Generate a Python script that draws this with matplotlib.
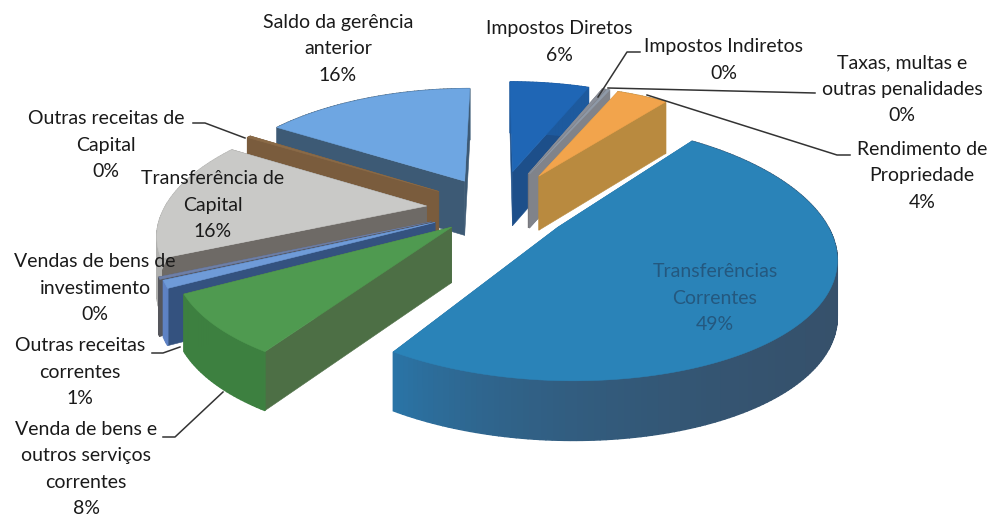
import numpy as np
from matplotlib import pyplot as plt
from matplotlib.colors import to_rgb

plt.rcParams['font.family'] = ['Lato', 'DejaVu Sans']

# valores (os 0% sao fatias pequenas mas visiveis)
categorias = ["Impostos Diretos", "Impostos Indiretos", "Taxas, multas e\noutras penalidades",
              "Rendimento de\nPropriedade", "Transferências\nCorrentes",
              "Venda de bens e\noutros serviços\ncorrentes", "Outras receitas\ncorrentes",
              "Vendas de bens de\ninvestimento", "Transferência de\nCapital",
              "Outras receitas de\nCapital", "Saldo da gerência\nanterior"]
valores = [6.1, 0.3, 0.2, 3.9, 48.6, 7.8, 1.0, 0.3, 15.6, 0.3, 15.9]
rotulos = ["6%", "0%", "0%", "4%", "49%", "8%", "1%", "0%", "16%", "0%", "16%"]

cor_topo = ['#1f66b5', '#8a8f99', '#8f9aa8', '#f2a44c', '#2a83b8', '#4f9a50',
            '#6f9bd8', '#6d7fa8', '#c9c9c7', '#8a6a47', '#6ea6e2']
cor_lado = ['#1d4f8a', '#77777d', '#80838a', '#b98a3f', '#2a6f9e', '#4d6f45',
            '#34527f', '#55565c', '#6e6a66', '#7a5c3d', '#3d5a75']
rim_a = ['#1d5a9e', '#77777d', '#80838a', '#b98a3f', '#36506a', '#3d8040',
         '#5e82c4', '#55565c', '#b0b0ae', '#7a5c3d', '#3d5a75']
rim_b = ['#1d5a9e', '#77777d', '#80838a', '#b98a3f', '#2a74a6', '#3d8040',
         '#5e82c4', '#55565c', '#b0b0ae', '#7a5c3d', '#3d5a75']
explosao = [0.33, 0.33, 0.33, 0.33, 0.275, 0.23, 0.26, 0.27, 0.27, 0.27, 0.27]
ordem = [10, 9, 8, 7, 6, 5, 0, 1, 2, 3, 4]

cx, cy, A, B, kx, ky, alt = 497, 208, 262, 118, 0.2, 0.18, 55


def proj(X, Y, z=0.0):
    wx = 1 + kx * Y
    wy = 1 + ky * Y
    return cx + A * X / wx, cy - B * Y / wy + alt * z / wy ** 0.35


def face(ax, x, y, c, z, lw=0.4):
    ax.fill(x, y, color=c, lw=lw, zorder=z)


fig, ax = plt.subplots(figsize=(9.93, 5.15), dpi=100)
fig.subplots_adjust(0, 0, 1, 1)
ax.set_xlim(0, 993)
ax.set_ylim(515, 0)
ax.axis('off')

cortes = np.cumsum([0] + valores) / sum(valores) * 2 * np.pi
for n, i in enumerate(ordem):
    a0, a1 = cortes[i], cortes[i + 1]
    m = (a0 + a1) / 2
    ox, oy = explosao[i] * np.sin(m), explosao[i] * np.cos(m)
    t = np.linspace(a0, a1, max(3, int(np.degrees(a1 - a0)) + 1))
    X, Y = ox + np.sin(t), oy + np.cos(t)
    z = 2 + n * 0.1
    for aresta in (0, -1):
        px = np.array([ox, X[aresta], X[aresta], ox])
        py = np.array([oy, Y[aresta], Y[aresta], oy])
        sx, sy = proj(px, py, np.array([0, 0, 1, 1]))
        face(ax, sx, sy, cor_lado[i], z)
    ca = np.array(to_rgb(rim_a[i]))
    cb = np.array(to_rgb(rim_b[i]))
    for j in range(len(t) - 1):
        px = np.array([X[j], X[j + 1], X[j + 1], X[j]])
        py = np.array([Y[j], Y[j + 1], Y[j + 1], Y[j]])
        sx, sy = proj(px, py, np.array([0, 0, 1, 1]))
        f = (j / max(1, len(t) - 2)) ** 5
        face(ax, sx, sy, ca + (cb - ca) * f, z + 0.01, lw=1.0)
    sx, sy = proj(np.r_[ox, X], np.r_[oy, Y])
    face(ax, sx, sy, cor_topo[i], z + 0.02)

# rotulos: (x, y) do centro do bloco de texto em pixels
pos = [(559, 42), (724, 60), (902, 89), (922, 176), (715, 298), (86, 469), (80, 372),
       (95, 288), (213, 205), (106, 145), (338, 49)]
for i, (x, y) in enumerate(pos):
    cor = '#24587f' if i == 4 else '#1a1a1a'
    ax.text(x, y, categorias[i] + "\n" + rotulos[i], ha='center', va='center', fontsize=14,
            color=cor, linespacing=1.66, zorder=10)

lideres = [([640, 627, 598], [52, 52, 97]), ([815, 608], [93, 88]), ([850, 837, 647], [155, 155, 95]),
           ([152, 163, 180], [353, 353, 347]), ([163, 175, 223], [437, 437, 392]),
           ([193, 205, 245], [123, 123, 138])]
for lx, ly in lideres:
    ax.plot(lx, ly, color='#333333', lw=1.1, zorder=9)

fig.savefig("out.png", dpi=100)
